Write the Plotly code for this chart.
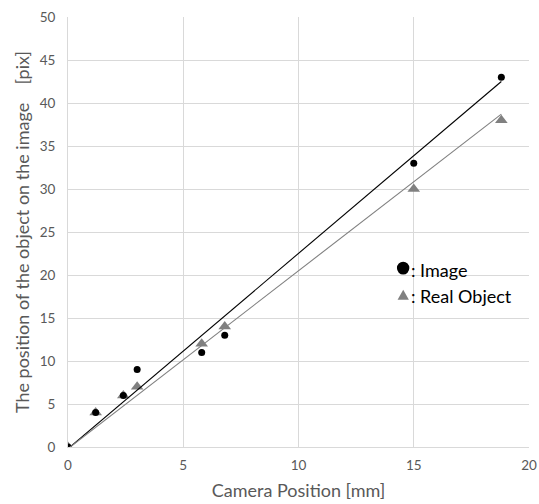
import plotly.graph_objects as go

# Data
camera_pos = [0, 1.2, 2.4, 3.0, 5.8, 6.8, 15.0, 18.8]
image_pos = [0, 4, 6, 9, 11, 13, 33, 43]
real_pos = [0, 4, 6, 7, 12, 14, 30, 38]

# Trend lines (end points)
trend_x = [0, 18.8]
image_trend = [-0.2, 42.5]
real_trend = [-0.2, 38.7]

x_ticks = [0, 5, 10, 15, 20]
y_ticks = [0, 5, 10, 15, 20, 25, 30, 35, 40, 45, 50]

FONT = "Lato"
TICK_COLOR = "#595959"
GRID = "#d9d9d9"

fig = go.Figure()

fig.add_trace(go.Scatter(
    x=camera_pos, y=real_pos, mode="markers",
    marker=dict(symbol="triangle-up", size=11, color="#808080"),
    showlegend=False, hoverinfo="skip"))
fig.add_trace(go.Scatter(
    x=camera_pos, y=image_pos, mode="markers",
    marker=dict(symbol="circle", size=7, color="black"),
    showlegend=False, hoverinfo="skip"))
fig.add_trace(go.Scatter(
    x=trend_x, y=image_trend, mode="lines",
    line=dict(color="black", width=1.1),
    showlegend=False, hoverinfo="skip"))
fig.add_trace(go.Scatter(
    x=trend_x, y=real_trend, mode="lines",
    line=dict(color="#808080", width=1.1),
    showlegend=False, hoverinfo="skip"))

# Custom legend (symbols + text) in paper coordinates
fig.add_shape(type="circle", xref="paper", yref="paper",
              x0=0.7135, x1=0.7405, y0=0.401, y1=0.431,
              fillcolor="black", line=dict(width=0))
fig.add_shape(type="path", xref="paper", yref="paper",
              path="M 0.7149 0.3426 L 0.7394 0.3426 L 0.72715 0.3658 Z",
              fillcolor="#808080", line=dict(width=0))
fig.add_annotation(xref="paper", yref="paper", x=0.739, y=0.4123,
                   text=": Image", showarrow=False, xanchor="left",
                   yanchor="middle", font=dict(family=FONT, size=18, color="black"))
fig.add_annotation(xref="paper", yref="paper", x=0.739, y=0.3519,
                   text=": Real Object", showarrow=False, xanchor="left",
                   yanchor="middle", font=dict(family=FONT, size=18, color="black"))

fig.update_layout(
    width=539, height=504,
    margin=dict(l=68, r=9.7, t=17.3, b=56.7, autoexpand=False),
    paper_bgcolor="white", plot_bgcolor="white",
    font=dict(family=FONT, color=TICK_COLOR),
)
fig.update_xaxes(
    range=[0, 20], tickvals=x_ticks, ticktext=[str(v) for v in x_ticks],
    automargin=False, ticklabeloverflow="allow",
    showgrid=True, gridcolor=GRID, gridwidth=1,
    zeroline=False, showline=True, linecolor=GRID, linewidth=1,
    ticks="outside", ticklen=6, tickcolor="rgba(0,0,0,0)",
    tickfont=dict(family=FONT, size=13.5, color=TICK_COLOR),
    title=dict(text="Camera Position [mm]", standoff=12,
               font=dict(family=FONT, size=18, color=TICK_COLOR)),
)
fig.update_yaxes(
    range=[0, 50], tickvals=y_ticks, ticktext=[str(v) for v in y_ticks],
    automargin=False,
    showgrid=True, gridcolor=GRID, gridwidth=1,
    zeroline=False, showline=True, linecolor=GRID, linewidth=1,
    ticks="outside", ticklen=9, tickcolor="rgba(0,0,0,0)",
    tickfont=dict(family=FONT, size=13.5, color=TICK_COLOR),
    title=dict(text="The position of the object on the image&nbsp;&nbsp;&nbsp;&nbsp;[pix]", standoff=5,
               font=dict(family=FONT, size=18, color=TICK_COLOR)),
)

# Remove the browser's default 8px body margin so the figure fills the window
fig.write_html(
    "out.html",
    config={"displayModeBar": False},
    post_script="document.body.style.margin='0';document.body.style.overflow='hidden';",
)
